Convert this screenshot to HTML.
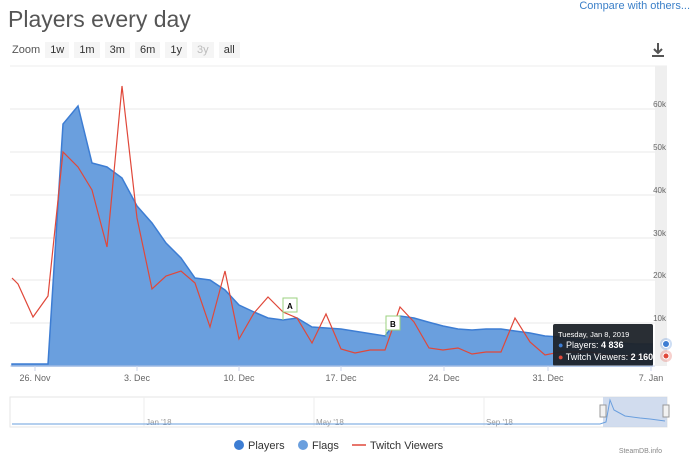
<!DOCTYPE html>
<html><head><meta charset="utf-8"><style>
body{margin:0;width:700px;height:461px;background:#fff;font-family:"Liberation Sans",sans-serif;overflow:hidden;position:relative}
.t{position:absolute;left:8px;top:6px;font-size:23px;color:#555;font-weight:300}
.c{position:absolute;right:10px;top:0px;font-size:11px;color:#3a7fc8}
.z{position:absolute;left:12px;top:42px;font-size:11px;color:#555}
.z span{display:inline-block;background:#f5f5f5;padding:2px 5px;margin-left:2px;color:#333}
</style></head><body>
<div class="t">Players every day</div>
<div class="c">Compare with others...</div>
<div class="z">Zoom <span>1w</span> <span>1m</span> <span>3m</span> <span>6m</span> <span>1y</span> <span style="color:#bbb">3y</span> <span>all</span></div>
<svg width="700" height="461" style="position:absolute;left:0;top:0" font-family="Liberation Sans,sans-serif">
<path d="M652 56h12M658 43v10M654 49l4 4 4-4" stroke="#555" stroke-width="2" fill="none"/>
<line x1="10" y1="66" x2="667" y2="66" stroke="#eee"/>
<rect x="655" y="66" width="12" height="300" fill="#efefef"/>
<g stroke="#e8e8e8">
<line x1="10" y1="109" x2="655" y2="109"/><line x1="10" y1="152" x2="655" y2="152"/><line x1="10" y1="195" x2="655" y2="195"/><line x1="10" y1="238" x2="655" y2="238"/><line x1="10" y1="280" x2="655" y2="280"/><line x1="10" y1="323" x2="655" y2="323"/>
</g>
<g font-size="8" fill="#666" text-anchor="end">
<text x="666" y="107">60k</text><text x="666" y="150">50k</text><text x="666" y="193">40k</text><text x="666" y="236">30k</text><text x="666" y="278">20k</text><text x="666" y="321">10k</text>
</g>
<path d="M12 364L48 364L63 124L78 106L92 163L107 167L122 178L137 206L152 223L166 243L181 258L195 278L210 280L225 290L239 305L254 312L268 318L283 320L297 318L312 327L341 329L385 336L400 316L414 318L428 322L443 326L458 329L472 330L486 329L501 329L515 331L530 333L545 336L560 337L575 339L590 340L605 341L620 343L635 344L652 344L652 366L12 366Z" fill="#6a9fde" stroke="#3d7dd3" stroke-width="1.5"/>
<path d="M12 278L18 284L33 317L48 296L63 152L78 167L92 190L107 247L122 86L137 218L152 289L166 276L181 271L195 283L210 327L225 271L239 339L254 313L268 297L283 312L297 318L312 343L326 314L341 349L355 353L370 350L385 350L400 307L414 322L429 348L443 350L458 348L472 354L486 352L501 352L515 318L530 342L545 355L560 352L575 352L590 352L605 355L620 356L652 356" fill="none" stroke="#e0483a" stroke-width="1.2"/>
<path d="M283 320V298h14v14h-14" fill="#fff" stroke="#9bd27f"/><text x="287" y="309" font-size="8" font-weight="bold">A</text>
<path d="M386 336V316h14v14h-14" fill="#fff" stroke="#9bd27f"/><text x="390" y="327" font-size="8" font-weight="bold">B</text>
<rect x="553" y="324" width="100" height="42" rx="2" fill="#1e2329" opacity=".95"/>
<text x="558" y="337" font-size="7.5" fill="#fff">Tuesday, Jan 8, 2019</text>
<text x="558" y="348" font-size="9" fill="#fff"><tspan fill="#3d7dd3">●</tspan> Players: <tspan font-weight="bold">4 836</tspan></text>
<text x="558" y="360" font-size="9" fill="#fff"><tspan fill="#e0483a">●</tspan> Twitch Viewers: <tspan font-weight="bold">2 160</tspan></text>
<circle cx="666" cy="344" r="6" fill="#3d7dd3" opacity=".25"/><circle cx="666" cy="344" r="3.5" fill="#3d7dd3" stroke="#fff"/>
<circle cx="666" cy="356" r="6" fill="#e0483a" opacity=".25"/><circle cx="666" cy="356" r="3" fill="#e0483a" stroke="#fff"/>
<line x1="10" y1="366" x2="655" y2="366" stroke="#ccd6eb"/>
<g stroke="#ccd6eb"><line x1="35" y1="366" x2="35" y2="371"/><line x1="137" y1="366" x2="137" y2="371"/><line x1="239" y1="366" x2="239" y2="371"/><line x1="341" y1="366" x2="341" y2="371"/><line x1="444" y1="366" x2="444" y2="371"/><line x1="548" y1="366" x2="548" y2="371"/><line x1="651" y1="366" x2="651" y2="371"/></g>
<g font-size="9" fill="#666" text-anchor="middle">
<text x="35" y="381">26. Nov</text><text x="137" y="381">3. Dec</text><text x="239" y="381">10. Dec</text><text x="341" y="381">17. Dec</text><text x="444" y="381">24. Dec</text><text x="548" y="381">31. Dec</text><text x="651" y="381">7. Jan</text>
</g>
<rect x="10" y="397" width="657" height="30" fill="#fff" stroke="#e6e6e6"/>
<g stroke="#eee"><line x1="144" y1="397" x2="144" y2="427"/><line x1="314" y1="397" x2="314" y2="427"/><line x1="484" y1="397" x2="484" y2="427"/></g>
<g font-size="8" fill="#999"><text x="146" y="425">Jan '18</text><text x="316" y="425">May '18</text><text x="486" y="425">Sep '18</text></g>
<rect x="603" y="397" width="64" height="30" fill="#c6d3ea" opacity=".8"/>
<path d="M12 424L600 424L606 422L610 400L614 410L625 416L640 418L650 419L665 421" fill="none" stroke="#6a9fde"/>
<rect x="600" y="405" width="6" height="12" fill="#f2f2f2" stroke="#999"/><rect x="663" y="405" width="6" height="12" fill="#f2f2f2" stroke="#999"/>
<g font-size="11" fill="#333">
<circle cx="239" cy="445" r="5" fill="#3d7dd3"/><text x="248" y="449">Players</text>
<circle cx="303" cy="445" r="5" fill="#6a9fde"/><text x="312" y="449">Flags</text>
<line x1="352" y1="445" x2="366" y2="445" stroke="#e0483a" stroke-width="1.5"/><text x="370" y="449">Twitch Viewers</text>
</g>
<text x="662" y="453" font-size="7" fill="#888" text-anchor="end">SteamDB.info</text>
</svg>
</body></html>
